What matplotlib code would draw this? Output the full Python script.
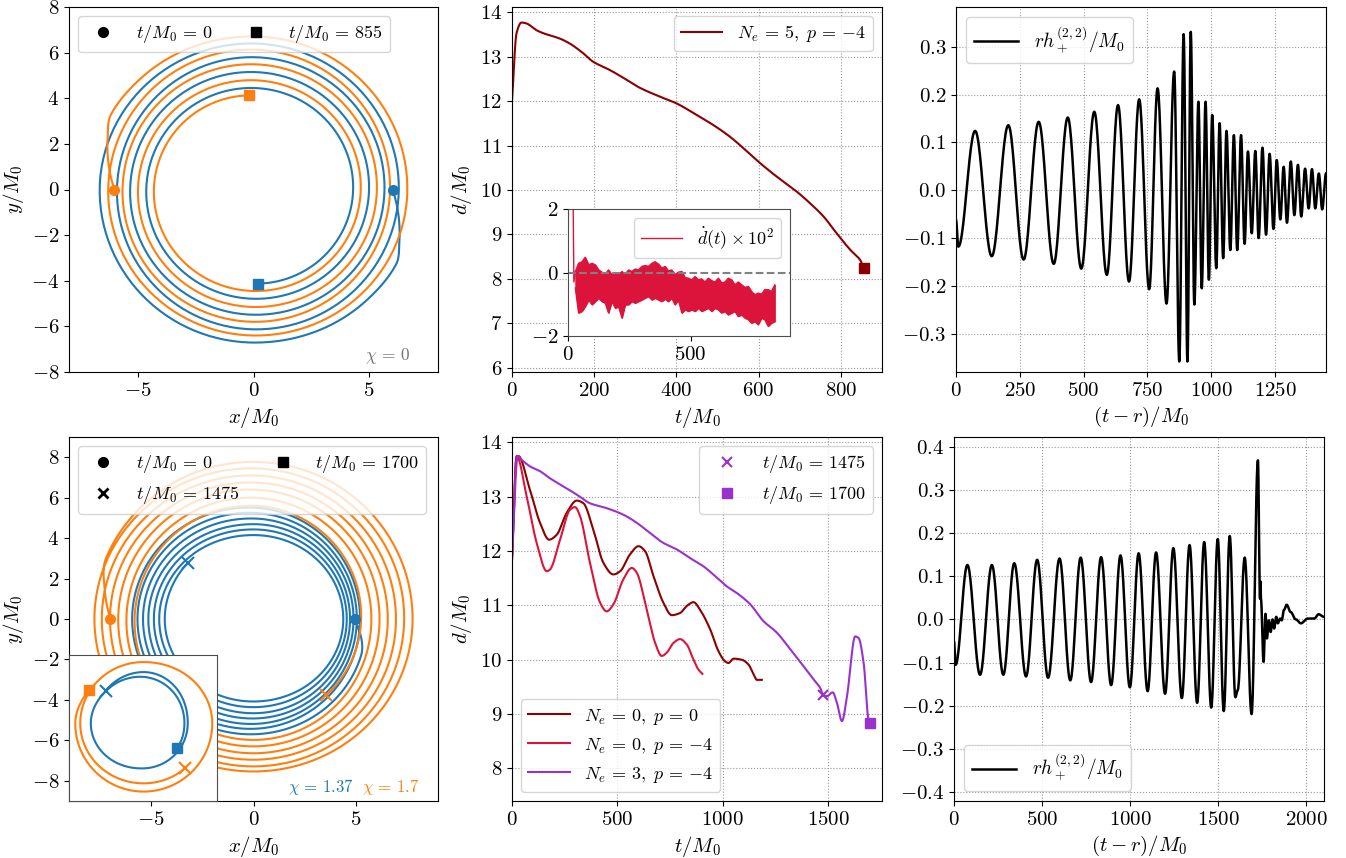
import numpy as np
import matplotlib

matplotlib.use("Agg")
import matplotlib.pyplot as plt  # noqa: E402
from matplotlib.lines import Line2D  # noqa: E402

plt.rcParams.update({
    "font.family": "serif",
    "font.serif": ["cmr10"],
    "mathtext.fontset": "cm",
    "axes.formatter.use_mathtext": True,
    "font.size": 15,
    "legend.fontsize": 13,
    "legend.handlelength": 2.3,
})

BLUE, ORANGE = "#1f77b4", "#ff7f0e"
DARKRED, CRIMSON, PURPLE = "darkred", "crimson", "darkorchid"

# ---- chi = 0 run (N_e=5, p=-4): puncture track, (angle deg, radius) knots
orb0_th = [0, -20, -28, -45, -90, -180, -270, -360, -450, -540, -630, -720,
           -810, -900, -990, -1080, -1170, -1260, -1350, -1440, -1527]
orb0_r = [6.03, 6.73, 7.0, 6.9, 6.71, 6.67, 6.40, 6.30, 6.13, 5.92, 5.80,
          5.68, 5.49, 5.35, 5.15, 5.01, 4.79, 4.65, 4.45, 4.32, 4.13]

# separation d(t)
d0_t = [0, 11, 23, 35, 59, 76, 116, 140, 173, 197, 238, 279, 311, 360, 400,
        449, 490, 530, 563, 604, 644, 693, 725, 758, 790, 823, 847, 855]
d0_v = [12.0, 13.53, 13.77, 13.75, 13.6, 13.53, 13.41, 13.3, 13.08, 12.89,
        12.7, 12.48, 12.3, 12.1, 11.95, 11.69, 11.46, 11.2, 10.94, 10.6,
        10.3, 9.96, 9.7, 9.4, 9.02, 8.65, 8.42, 8.25]

# d-dot x 100: spike at start, then upper/lower envelope of the noise band
dd_spike_t = [0, 2, 20, 24, 30]
dd_spike_v = [-1.4, 3.0, 3.0, -0.3, 0.03]
dd_t = [30, 43, 57, 70, 84, 98, 111, 125, 138, 152, 165, 179, 193, 206, 220,
        233, 247, 260, 274, 287, 301, 315, 328, 342, 355, 369, 382, 396, 409,
        423, 436, 450, 464, 477, 491, 504, 518, 531, 545, 558, 572, 586, 599,
        613, 626, 640, 653, 667, 680, 694, 708, 721, 735, 748, 762, 775, 789,
        802, 816, 829, 843]
dd_hi = [0.03, 0.29, 0.34, 0.48, 0.24, 0.29, 0.24, 0.08, 0.01, -0.05, 0.08,
         -0.07, -0.02, -0.07, 0.03, -0.05, 0.08, 0.03, 0.11, 0.08, 0.19, 0.22,
         0.19, 0.29, 0.34, 0.26, 0.14, 0.19, 0.05, 0.08, -0.07, 0.01, 0.03,
         -0.16, -0.18, -0.23, -0.13, -0.23, -0.2, -0.3, -0.18, -0.26, -0.3,
         -0.18, -0.33, -0.3, -0.18, -0.23, -0.39, -0.3, -0.39, -0.47, -0.44,
         -0.6, -0.7, -0.65, -0.68, -0.54, -0.54, -0.6, -0.39]
dd_lo = [-0.49, -1.27, -1.22, -1.07, -0.86, -1.01, -0.91, -0.80, -0.91, -0.96,
         -1.27, -0.91, -1.12, -1.07, -1.43, -1.01, -1.01, -0.91, -0.96, -0.91,
         -0.86, -0.80, -0.75, -0.86, -0.80, -0.86, -0.91, -0.83, -0.91, -0.80,
         -1.01, -0.86, -1.27, -1.17, -1.22, -1.17, -1.22, -1.12, -1.22, -1.17,
         -1.12, -1.22, -1.12, -1.17, -1.27, -1.22, -1.33, -1.27, -1.22, -1.38,
         -1.33, -1.43, -1.48, -1.59, -1.54, -1.64, -1.43, -1.48, -1.69, -1.59,
         -1.54]

# rh_+ (2,2) strain, chi = 0: extrema (time, value)
h0_t = [0, 9, 75, 140, 205, 265, 324, 383, 438, 491, 542, 591, 635, 678, 718,
        757, 790, 825, 855, 875, 892, 907, 920, 934, 950, 963, 978, 991, 1004,
        1020, 1033, 1047, 1060, 1075, 1089, 1102, 1117, 1131, 1144, 1159,
        1173, 1186, 1201, 1215, 1229, 1244, 1257, 1271, 1284, 1297, 1312,
        1326, 1340, 1353, 1368, 1382, 1395, 1408, 1422, 1435, 1450]
h0_v = [-0.062, -0.118, 0.124, -0.138, 0.136, -0.145, 0.143, -0.154, 0.152,
        -0.164, 0.164, -0.177, 0.178, -0.191, 0.190, -0.207, 0.213, -0.237,
        0.248, -0.358, 0.326, -0.358, 0.331, -0.239, 0.185, -0.205, 0.185,
        -0.187, 0.157, -0.163, 0.140, -0.142, 0.124, -0.125, 0.115, -0.125,
        0.115, -0.112, 0.081, -0.090, 0.082, -0.100, 0.089, -0.093, 0.076,
        -0.081, 0.063, -0.061, 0.049, -0.068, 0.060, -0.052, 0.053, -0.055,
        0.045, -0.038, 0.044, -0.038, 0.035, -0.040, 0.035]

# ---- spinning runs: chi = 1.37 (blue) and chi = 1.7 (orange)
orbA_th = [0, -19, -90, -180, -270, -360, -450, -540, -630, -720, -810, -900,
           -990, -1080, -1170, -1260, -1350, -1440, -1530, -1620, -1710,
           -1800, -1890, -1980, -2070, -2160, -2250, -2340, -2381]
orbA_r = [4.95, 5.55, 5.70, 5.92, 5.51, 5.20, 5.43, 5.66, 5.25, 5.04, 5.19,
          5.39, 4.97, 4.88, 4.92, 5.13, 4.69, 4.71, 4.66, 4.86, 4.43, 4.55,
          4.36, 4.60, 4.15, 4.38, 4.08, 4.33, 4.24]
orbB_th = [180, 169, 157, 90, 0, -90, -180, -270, -360, -450, -540, -630,
           -720, -810, -900, -990, -1080, -1170, -1260, -1350, -1440, -1530,
           -1620, -1710, -1800, -1890, -1980, -2070, -2160, -2207]
orbB_r = [6.98, 7.39, 7.8, 7.77, 7.76, 7.54, 7.76, 7.45, 7.35, 7.29, 7.40,
          7.10, 6.95, 6.96, 7.0, 6.75, 6.55, 6.64, 6.6, 6.4, 6.15, 6.3, 6.2,
          6.0, 5.75, 5.98, 5.8, 5.6, 5.25, 5.17]
# late part, t/M0 = 1475 .. 1700
lateA_th = [139, 90, 0, -90, -180, -221, -270, -360, -396]
lateA_r = [4.24, 4.35, 3.73, 3.83, 4.46, 4.2, 3.94, 3.45, 3.53]
lateB_th = [-47, -90, -180, -270, -360, -450, -540, -572]
lateB_r = [5.17, 5.1, 5.35, 5.2, 5.8, 5.8, 5.77, 5.39]

# separations
dA_t = [0, 22, 30, 85, 133, 176, 212, 259, 307, 339, 386, 434, 481, 513, 560,
        600, 631, 671, 718, 758, 797, 829, 861, 892, 940, 979, 1011, 1027,
        1051, 1090, 1122, 1146, 1161, 1185]
dA_v = [11.84, 13.74, 13.75, 13.13, 12.52, 12.21, 12.30, 12.70, 12.93, 12.88,
        12.39, 11.78, 11.57, 11.63, 11.94, 12.09, 12.0, 11.54, 11.05, 10.82,
        10.86, 10.99, 11.06, 10.92, 10.56, 10.16, 9.97, 9.94, 10.02, 10.0,
        9.91, 9.73, 9.63, 9.63]
dB_t = [0, 22, 70, 117, 165, 180, 228, 275, 299, 323, 370, 418, 449, 481, 528,
        568, 592, 639, 679, 710, 734, 766, 797, 829, 861, 884, 903]
dB_v = [11.84, 13.75, 13.0, 12.15, 11.63, 11.66, 12.21, 12.76, 12.81, 12.64,
        11.78, 11.05, 10.89, 11.02, 11.48, 11.69, 11.6, 10.92, 10.31, 10.07,
        10.13, 10.31, 10.38, 10.28, 10.0, 9.82, 9.74]
dC_t = [0, 27, 46, 85, 133, 180, 244, 307, 370, 449, 528, 592, 655, 718, 782,
        845, 908, 972, 1019, 1066, 1130, 1193, 1256, 1320, 1383, 1430, 1462,
        1475, 1494, 1521, 1541, 1565, 1589, 1628, 1644, 1668, 1691, 1700]
dC_v = [11.84, 13.75, 13.68, 13.56, 13.47, 13.34, 13.19, 13.04, 12.88, 12.79,
        12.67, 12.52, 12.33, 12.15, 12.03, 11.87, 11.72, 11.51, 11.35, 11.23,
        11.02, 10.71, 10.5, 10.19, 9.88, 9.64, 9.48, 9.36, 9.33, 9.40, 9.21,
        8.87, 9.33, 10.43, 10.40, 9.94, 8.90, 8.84]

# strain, chi = 1.7 run: extrema (time, value)
h1_t = [0, 9, 76, 148, 215, 280, 342, 409, 472, 534, 599, 660, 719, 778, 835,
        892, 945, 998, 1048, 1099, 1147, 1198, 1245, 1293, 1337, 1380, 1420,
        1460, 1497, 1531, 1565, 1597, 1610, 1650, 1689, 1725, 1737, 1739,
        1742, 1757, 1768, 1776, 1787, 1797, 1808, 1817, 1829, 1838, 1851,
        1860, 1873, 1888, 1911, 1940, 1969, 2007, 2045, 2069, 2100]
h1_v = [-0.051, -0.105, 0.126, -0.128, 0.126, -0.128, 0.130, -0.132, 0.138,
        -0.135, 0.141, -0.141, 0.143, -0.145, 0.144, -0.152, 0.148, -0.157,
        0.153, -0.166, 0.155, -0.172, 0.165, -0.182, 0.172, -0.193, 0.179,
        -0.204, 0.186, -0.212, 0.193, -0.180, -0.164, 0.143, -0.219, 0.368,
        0.048, 0.088, 0.048, -0.098, 0.013, -0.044, -0.002, -0.029, 0.0,
        -0.021, 0.006, -0.009, 0.002, -0.002, 0.022, 0.034, 0.017, 0.0,
        -0.009, 0.002, 0.002, 0.012, 0.006]


def smooth(tk, vk, n=16):
    """Shape-preserving cubic Hermite curve through the knots."""
    tk = np.asarray(tk, float)
    vk = np.asarray(vk, float)
    d = np.diff(vk) / np.diff(tk)
    m = np.empty_like(vk)
    m[0], m[-1] = d[0], d[-1]
    for i in range(1, len(vk) - 1):
        a, b = d[i - 1], d[i]
        m[i] = 2 * a * b / (a + b) if a * b > 0 else 0.0
    s = np.linspace(0, 1, n, endpoint=False)
    h00 = 2 * s**3 - 3 * s**2 + 1
    h10 = s**3 - 2 * s**2 + s
    h01 = -2 * s**3 + 3 * s**2
    h11 = s**3 - s**2
    ts, vs = [], []
    for i in range(len(tk) - 1):
        h = tk[i + 1] - tk[i]
        ts.append(tk[i] + h * s)
        vs.append(h00 * vk[i] + h10 * h * m[i] + h01 * vk[i + 1]
                  + h11 * h * m[i + 1])
    ts.append(tk[-1:])
    vs.append(vk[-1:])
    return np.concatenate(ts), np.concatenate(vs)


def orbit(th_knots, r_knots):
    """Track from (angle, radius) knots, angle decreasing (clockwise)."""
    th, r = smooth(-np.asarray(th_knots, float), r_knots, n=60)
    a = np.radians(-th)
    return r * np.cos(a), r * np.sin(a)


def through_extrema(tk, vk, n=24):
    """Smooth oscillation passing through the listed extrema."""
    ts, vs = [], []
    s = np.linspace(0, 1, n, endpoint=False)
    for i in range(len(tk) - 1):
        ts.append(tk[i] + (tk[i + 1] - tk[i]) * s)
        vs.append(vk[i] + (vk[i + 1] - vk[i]) * (1 - np.cos(np.pi * s)) / 2)
    ts.append([tk[-1]])
    vs.append([vk[-1]])
    return np.concatenate(ts), np.concatenate(vs)


def grid(ax):
    ax.grid(True, ls=":", color="0.6", lw=0.8)


def marker_legend(ax, handles):
    ax.legend(handles=handles, loc="upper left", ncol=2, handlelength=2.0,
              columnspacing=1.4)


W, H = 1346, 858
fig = plt.figure(figsize=(W / 100, H / 100), dpi=100)


def axes_px(x0, y0, x1, y1):
    return fig.add_axes([x0 / W, 1 - y1 / H, (x1 - x0) / W, (y1 - y0) / H])


# ---------------- top left: chi = 0 tracks
ax = axes_px(69, 7, 438, 372)
bx, by = orbit(orb0_th, orb0_r)
ax.plot(bx, by, color=BLUE)
ax.plot(-bx, -by, color=ORANGE)
for s in (1, -1):
    c = BLUE if s == 1 else ORANGE
    ax.plot(s * bx[0], s * by[0], "o", color=c, ms=7)
    ax.plot(s * bx[-1], s * by[-1], "s", color=c, ms=7)
ax.set_xlim(-8, 8)
ax.set_ylim(-8, 8)
ax.set_xticks([-5, 0, 5])
ax.set_yticks(np.arange(-8, 9, 2))
ax.set_xlabel("$x/M_0$")
ax.set_ylabel("$y/M_0$")
ax.text(0.925, 0.045, r"$\chi\,=\,0$", transform=ax.transAxes, ha="right",
        va="center", color="0.45", fontsize=12.5)
marker_legend(ax, [
    Line2D([], [], ls="", marker="o", color="k", ms=7,
           label=r"$t/M_0\,=\,0$"),
    Line2D([], [], ls="", marker="s", color="k", ms=7,
           label=r"$t/M_0\,=\,855$"),
])

# ---------------- top middle: separation
ax = axes_px(512, 7, 882, 372)
ax.plot(*smooth(d0_t, d0_v), color=DARKRED,
        label=r"$N_e\,=\,5,\ p\,=\,{-4}$")
ax.plot(d0_t[-1], d0_v[-1], "s", color=DARKRED, ms=7)
ax.set_xlim(0, 900)
ax.set_ylim(5.9, 14.12)
ax.set_xticks(np.arange(0, 801, 200))
ax.set_yticks(np.arange(6, 15, 1))
ax.set_xlabel("$t/M_0$")
ax.set_ylabel("$d/M_0$")
grid(ax)
ax.legend(loc="upper right")

ins = axes_px(568, 209, 790, 336)
ins.fill_between(dd_t, dd_lo, dd_hi, color=CRIMSON, lw=0.8)
ins.plot(dd_spike_t + dd_t, dd_spike_v + dd_hi, color=CRIMSON, lw=1,
         label=r"$\dot{d}(t)\times 10^2$")
ins.plot(dd_t, dd_lo, color=CRIMSON, lw=1)
ins.axhline(0, color="grey", ls="--", lw=1.5)
ins.set_xlim(0, 905)
ins.set_ylim(-2, 2)
ins.set_xticks([0, 500])
ins.set_yticks([-2, 0, 2])
for sp in ins.spines.values():
    sp.set_color("0.3")
ins.legend(loc="upper right")

# ---------------- top right: strain
ax = axes_px(956, 7, 1326, 372)
t, v = through_extrema(h0_t, h0_v)
ax.plot(t, v, color="k", lw=1.8, label=r"$rh_+^{(2,2)}/M_0$")
ax.set_xlim(0, 1450)
ax.set_ylim(-0.38, 0.383)
ax.set_xticks(np.arange(0, 1251, 250))
ax.set_yticks(np.round(np.arange(-0.3, 0.31, 0.1), 1))
ax.set_xlabel("$(t-r)/M_0$")
grid(ax)
ax.legend(loc="upper left", fontsize=14)

# ---------------- bottom left: spinning tracks
ax = axes_px(69, 437, 438, 801)
ax_x, ax_y = orbit(orbA_th, orbA_r)
bx_x, bx_y = orbit(orbB_th, orbB_r)
ax.plot(ax_x, ax_y, color=BLUE)
ax.plot(bx_x, bx_y, color=ORANGE)
ax.plot(ax_x[0], ax_y[0], "o", color=BLUE, ms=7)
ax.plot(bx_x[0], bx_y[0], "o", color=ORANGE, ms=7)
ax.plot(ax_x[-1], ax_y[-1], "x", color=BLUE, ms=8, mew=1.5)
ax.plot(bx_x[-1], bx_y[-1], "x", color=ORANGE, ms=8, mew=1.5)
ax.set_xlim(-9, 9)
ax.set_ylim(-9, 9)
ax.set_xticks([-5, 0, 5])
ax.set_yticks(np.arange(-8, 9, 2))
ax.set_xlabel("$x/M_0$")
ax.set_ylabel("$y/M_0$")
ax.text(0.772, 0.038, r"$\chi\,=\,1.37$", transform=ax.transAxes,
        ha="right", va="center", color=BLUE, fontsize=12)
ax.text(0.948, 0.038, r"$\chi\,=\,1.7$", transform=ax.transAxes,
        ha="right", va="center", color=ORANGE, fontsize=12)
marker_legend(ax, [
    Line2D([], [], ls="", marker="o", color="k", ms=7,
           label=r"$t/M_0\,=\,0$"),
    Line2D([], [], ls="", marker="x", color="k", ms=7, mew=2,
           label=r"$t/M_0\,=\,1475$"),
    Line2D([], [], ls="", marker="s", color="k", ms=7,
           label=r"$t/M_0\,=\,1700$"),
])

ins = axes_px(69, 655, 217, 801)
la_x, la_y = orbit(lateA_th, lateA_r)
lb_x, lb_y = orbit(lateB_th, lateB_r)
ins.plot(la_x, la_y, color=BLUE)
ins.plot(lb_x, lb_y, color=ORANGE)
ins.plot(la_x[0], la_y[0], "x", color=BLUE, ms=8, mew=1.5)
ins.plot(lb_x[0], lb_y[0], "x", color=ORANGE, ms=8, mew=1.5)
ins.plot(la_x[-1], la_y[-1], "s", color=BLUE, ms=7)
ins.plot(lb_x[-1], lb_y[-1], "s", color=ORANGE, ms=7)
ins.set_xlim(-6.3, 6.2)
ins.set_ylim(-6.6, 5.8)
ins.set_xticks([])
ins.set_yticks([])
for sp in ins.spines.values():
    sp.set_color("0.3")

# ---------------- bottom middle: separations
ax = axes_px(512, 437, 882, 801)
l1, = ax.plot(*smooth(dA_t, dA_v), color=DARKRED,
              label=r"$N_e\,=\,0,\ p\,=\,0$")
l2, = ax.plot(*smooth(dB_t, dB_v), color=CRIMSON,
              label=r"$N_e\,=\,0,\ p\,=\,{-4}$")
l3, = ax.plot(*smooth(dC_t, dC_v), color=PURPLE,
              label=r"$N_e\,=\,3,\ p\,=\,{-4}$")
i1475 = dC_t.index(1475)
m1, = ax.plot(dC_t[i1475], dC_v[i1475], "x", color=PURPLE, ms=7, mew=1.5,
              ls="", label=r"$t/M_0\,=\,1475$")
m2, = ax.plot(dC_t[-1], dC_v[-1], "s", color=PURPLE, ms=7, ls="",
              label=r"$t/M_0\,=\,1700$")
ax.set_xlim(0, 1755)
ax.set_ylim(7.4, 14.1)
ax.set_xticks([0, 500, 1000, 1500])
ax.set_yticks(np.arange(8, 15, 1))
ax.set_xlabel("$t/M_0$")
ax.set_ylabel("$d/M_0$")
grid(ax)
leg = ax.legend(handles=[l1, l2, l3], loc="lower left")
ax.add_artist(leg)
ax.legend(handles=[m1, m2], loc="upper right")

# ---------------- bottom right: strain
ax = axes_px(954, 437, 1324, 801)
t, v = through_extrema(h1_t, h1_v)
ax.plot(t, v, color="k", lw=1.8, label=r"$rh_+^{(2,2)}/M_0$")
ax.set_xlim(0, 2100)
ax.set_ylim(-0.42, 0.422)
ax.set_xticks([0, 500, 1000, 1500, 2000])
ax.set_yticks(np.round(np.arange(-0.4, 0.41, 0.1), 1))
ax.set_xlabel("$(t-r)/M_0$")
grid(ax)
ax.legend(loc="lower left", fontsize=14)

fig.savefig("out.png", dpi=100)
